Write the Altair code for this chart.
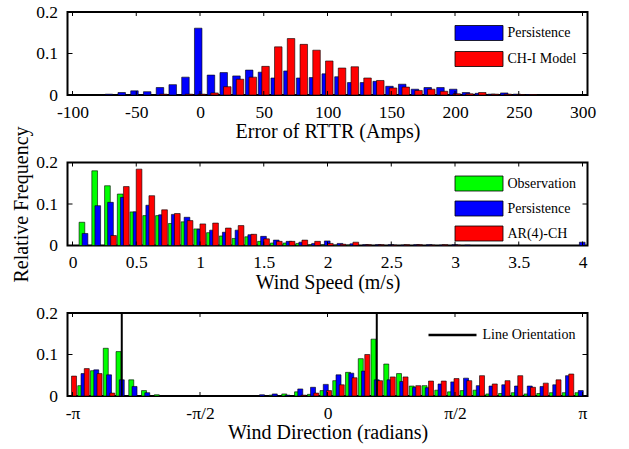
import math
import altair as alt
import pandas as pd

FONT = "Liberation Serif"
PI = math.pi

# ---------------- Panel 1: Error of RTTR (Amps) ----------------
rttr_centers = list(range(-70, 270, 10))
rttr_persistence = [0.002, 0.006, 0.010, 0.008, 0.018, 0.025, 0.043, 0.161, 0.048, 0.054,
                    0.046, 0.060, 0.055, 0.041, 0.058, 0.041, 0.042, 0.051, 0.044, 0.030,
                    0.030, 0.033, 0.021, 0.026, 0.014, 0.018, 0.018, 0.014, 0.006, 0.004,
                    0.002, 0.005, 0.002, 0.001]
rttr_chi = [0.0, 0.0, 0.0, 0.0, 0.002, 0.0, 0.002, 0.002, 0.005, 0.020,
            0.038, 0.043, 0.069, 0.116, 0.136, 0.122, 0.108, 0.082, 0.065, 0.068,
            0.041, 0.035, 0.017, 0.019, 0.011, 0.014, 0.009, 0.003, 0.003, 0.006,
            0.002, 0.002, 0.001, 0.001]
rttr_names = ["Persistence", "CH-I Model"]
rttr_xticks = [-100, -50, 0, 50, 100, 150, 200, 250, 300]

# ---------------- Panel 2: Wind Speed (m/s) ----------------
ws_centers = [round(0.1 * k, 1) for k in range(1, 41)]
ws_obs = [0.056, 0.180, 0.144, 0.124, 0.081, 0.072, 0.072, 0.053, 0.057, 0.040,
          0.031, 0.023, 0.017, 0.021, 0.010, 0.006, 0.006, 0.005, 0.002, 0.002,
          0.001, 0.001, 0.0, 0.0, 0.0, 0.0, 0.0, 0.0, 0.0, 0.0,
          0.0, 0.0, 0.0, 0.0, 0.0, 0.0, 0.0, 0.0, 0.0, 0.0]
ws_pers = [0.029, 0.096, 0.104, 0.116, 0.081, 0.097, 0.074, 0.075, 0.068, 0.039,
           0.037, 0.032, 0.037, 0.026, 0.022, 0.013, 0.010, 0.008, 0.005, 0.011,
           0.005, 0.004, 0.002, 0.002, 0.002, 0.001, 0.002, 0.002, 0.001, 0.002,
           0.001, 0.0, 0.0, 0.0, 0.0, 0.0, 0.0, 0.0, 0.0, 0.008]
ws_ar = [0.0, 0.0, 0.024, 0.142, 0.184, 0.120, 0.086, 0.077, 0.060, 0.052,
         0.054, 0.042, 0.048, 0.027, 0.016, 0.010, 0.010, 0.013, 0.010, 0.005,
         0.003, 0.008, 0.002, 0.002, 0.001, 0.002, 0.002, 0.001, 0.002, 0.001,
         0.0, 0.0, 0.0, 0.0, 0.0, 0.0, 0.0, 0.0, 0.0, 0.0]
ws_names = ["Observation", "Persistence", "AR(4)-CH"]
ws_xticks = [0, 0.5, 1, 1.5, 2, 2.5, 3, 3.5, 4]

# ---------------- Panel 3: Wind Direction (radians) ----------------
line_orientation = 0.607
wd_bin_index = list(range(-24, 17))   # bins counted from the line orientation
wd_obs = [0.0, 0.025, 0.061, 0.115, 0.107, 0.039, 0.013, 0.003, 0.0, 0.0,
          0.0, 0.0, 0.0, 0.0, 0.0, 0.0, 0.002, 0.005, 0.010, 0.004,
          0.013, 0.037, 0.057, 0.090, 0.137, 0.077, 0.054, 0.024, 0.025, 0.014,
          0.010, 0.013, 0.014, 0.005, 0.006, 0.008, 0.005, 0.006, 0.008, 0.008,
          0.008]
wd_pers = [0.0, 0.054, 0.063, 0.051, 0.039, 0.023, 0.008, 0.0, 0.0, 0.0,
           0.0, 0.0, 0.0, 0.0, 0.0, 0.003, 0.005, 0.002, 0.017, 0.021,
           0.028, 0.051, 0.055, 0.060, 0.039, 0.039, 0.035, 0.021, 0.020, 0.029,
           0.034, 0.043, 0.025, 0.024, 0.027, 0.024, 0.024, 0.023, 0.027, 0.049,
           0.013]
wd_ar = [0.048, 0.066, 0.054, 0.007, 0.0, 0.0, 0.0, 0.0, 0.0, 0.0,
         0.0, 0.0, 0.0, 0.0, 0.0, 0.0, 0.0, 0.0, 0.002, 0.007,
         0.013, 0.027, 0.044, 0.100, 0.037, 0.046, 0.046, 0.025, 0.036, 0.036,
         0.042, 0.037, 0.049, 0.029, 0.037, 0.049, 0.021, 0.031, 0.039, 0.053,
         0.0]
wd_line_label = "Line Orientation"
wd_xticks = [-PI, -PI / 2, 0, PI / 2, PI]

y_ticks = [0, 0.1, 0.2]

W, H = 520, 83


def bars_df(centers, series, offsets):
    rows = []
    for (name, vals), off in zip(series, offsets):
        for c, v in zip(centers, vals):
            if v > 0:
                rows.append({"x": c + off, "y": v, "s": name})
    return pd.DataFrame(rows)


def legend_for(xpos, ypos, row_pad):
    return alt.Legend(
        orient="none", legendX=xpos, legendY=ypos, title=None, padding=0,
        symbolType="M-3.2,-1H3.2V1H-3.2Z", symbolSize=225,
        symbolStrokeColor="black", symbolStrokeWidth=0.8, symbolOpacity=1,
        labelFont=FONT, labelFontSize=14, labelColor="black", labelOffset=20.5,
        rowPadding=row_pad, labelLimit=300,
    )


def panel(df, names, colors, xdomain, xticks, xtitle, label_expr, barw,
          legend, ytitle=None, extra=None):
    xscale = alt.Scale(domain=xdomain, nice=False, zero=False)
    yscale = alt.Scale(domain=[0, 0.2], nice=False)
    xaxis = alt.Axis(values=xticks, labelExpr=label_expr, ticks=False, tickSize=0,
                     domain=False, grid=False, labelFlush=False, labelOverlap=False,
                     labelPadding=8, titlePadding=1)
    yaxis = alt.Axis(values=y_ticks, labelExpr="'' + datum.value", ticks=False,
                     tickSize=0, domain=False, grid=False, labelFlush=False,
                     labelOverlap=False, labelPadding=10, titlePadding=4.5)
    X = lambda: alt.X("x:Q", scale=xscale, axis=xaxis, title=xtitle)
    if ytitle:
        Y = lambda: alt.Y("y:Q", scale=yscale, axis=yaxis, stack=None, title=ytitle)
    else:
        Y = lambda: alt.Y("y:Q", scale=yscale, axis=yaxis, stack=None, title=None)
    fill = alt.Fill("s:N", scale=alt.Scale(domain=names, range=colors),
                    legend=legend if legend is not None else None)
    layers = []
    for name in names:
        layers.append(
            alt.Chart(df).transform_filter(alt.datum.s == name)
            .mark_bar(width=barw, stroke="black", strokeWidth=0.6, clip=True)
            .encode(x=X(), y=Y(), fill=fill)
        )
    if extra is not None:
        layers.append(extra(X))
    xt = pd.DataFrame({"x": xticks})
    yt = pd.DataFrame({"y": y_ticks})
    layers.append(alt.Chart(xt).mark_rule(color="black", strokeWidth=1)
                  .encode(x=X(), y=alt.value(H), y2=alt.value(H - 4)))
    layers.append(alt.Chart(xt).mark_rule(color="black", strokeWidth=1)
                  .encode(x=X(), y=alt.value(0), y2=alt.value(4)))
    layers.append(alt.Chart(yt).mark_rule(color="black", strokeWidth=1)
                  .encode(y=Y(), x=alt.value(0), x2=alt.value(5)))
    layers.append(alt.Chart(yt).mark_rule(color="black", strokeWidth=1)
                  .encode(y=Y(), x=alt.value(W), x2=alt.value(W - 5)))
    return alt.layer(*layers).properties(width=W, height=H)


# Panel 1
df1 = bars_df(rttr_centers, [(rttr_names[0], rttr_persistence), (rttr_names[1], rttr_chi)],
              [-1.4, 1.4])
p1 = panel(df1, rttr_names, ["#0000FF", "#FF0000"], [-100, 300], rttr_xticks,
           "Error of RTTR (Amps)", "'' + datum.value", 7.5, legend_for(403.5, 13, 6))

# Panel 2
df2 = bars_df(ws_centers, [(ws_names[0], ws_obs), (ws_names[1], ws_pers), (ws_names[2], ws_ar)],
              [-0.026, -0.002, 0.022])
p2 = panel(df2, ws_names, ["#00FF00", "#0000FF", "#FF0000"], [0, 4], ws_xticks,
           "Wind Speed (m/s)", "'' + datum.value", 5.7, legend_for(403.5, 13, 5),
           ytitle="Relative Frequency")

# Panel 3
wd_w = PI / 20
wd_centers = [line_orientation + k * wd_w for k in wd_bin_index]
df3 = bars_df(wd_centers, [(ws_names[0], wd_obs), (ws_names[1], wd_pers), (ws_names[2], wd_ar)],
              [-0.04, 0.0, 0.04])
lines_df = pd.DataFrame({"x": [line_orientation - PI, line_orientation],
                         "s": [wd_line_label, wd_line_label]})


def orientation_lines(X):
    return (alt.Chart(lines_df).mark_rule(strokeWidth=2)
            .encode(x=X(), stroke=alt.Stroke(
                "s:N", scale=alt.Scale(domain=[wd_line_label], range=["black"]),
                legend=alt.Legend(orient="none", legendX=376, legendY=13, title=None,
                                  padding=0, symbolType="M-3.2,0H3.2", symbolSize=225,
                                  symbolStrokeWidth=2.5, labelFont=FONT, labelFontSize=14,
                                  labelColor="black", labelOffset=21, labelLimit=300))))


wd_expr = ("datum.value < -3 ? '-π' : datum.value < -1 ? '-π/2' : "
           "datum.value < 1 ? '0' : datum.value < 3 ? 'π/2' : 'π'")
p3 = panel(df3, ws_names, ["#00FF00", "#0000FF", "#FF0000"], [-PI, PI], wd_xticks,
           "Wind Direction (radians)", wd_expr, 5, None, extra=orientation_lines)

chart = (
    alt.vconcat(p1, p2, p3, spacing=67.5, bounds="flush")
    .resolve_scale(x="independent", y="independent", fill="independent", stroke="independent")
    .resolve_legend(fill="independent", stroke="independent")
    .properties(padding={"left": 9.5, "top": 2, "right": 0, "bottom": 0},
                background="white")
    .configure_view(stroke="black", strokeWidth=2)
    .configure_axis(labelFont=FONT, labelFontSize=17.5, labelColor="black",
                    titleFont=FONT, titleFontSize=20, titleFontWeight="normal",
                    titleColor="black")
)

chart.save("out.html", embed_options={"renderer": "svg", "actions": False})
